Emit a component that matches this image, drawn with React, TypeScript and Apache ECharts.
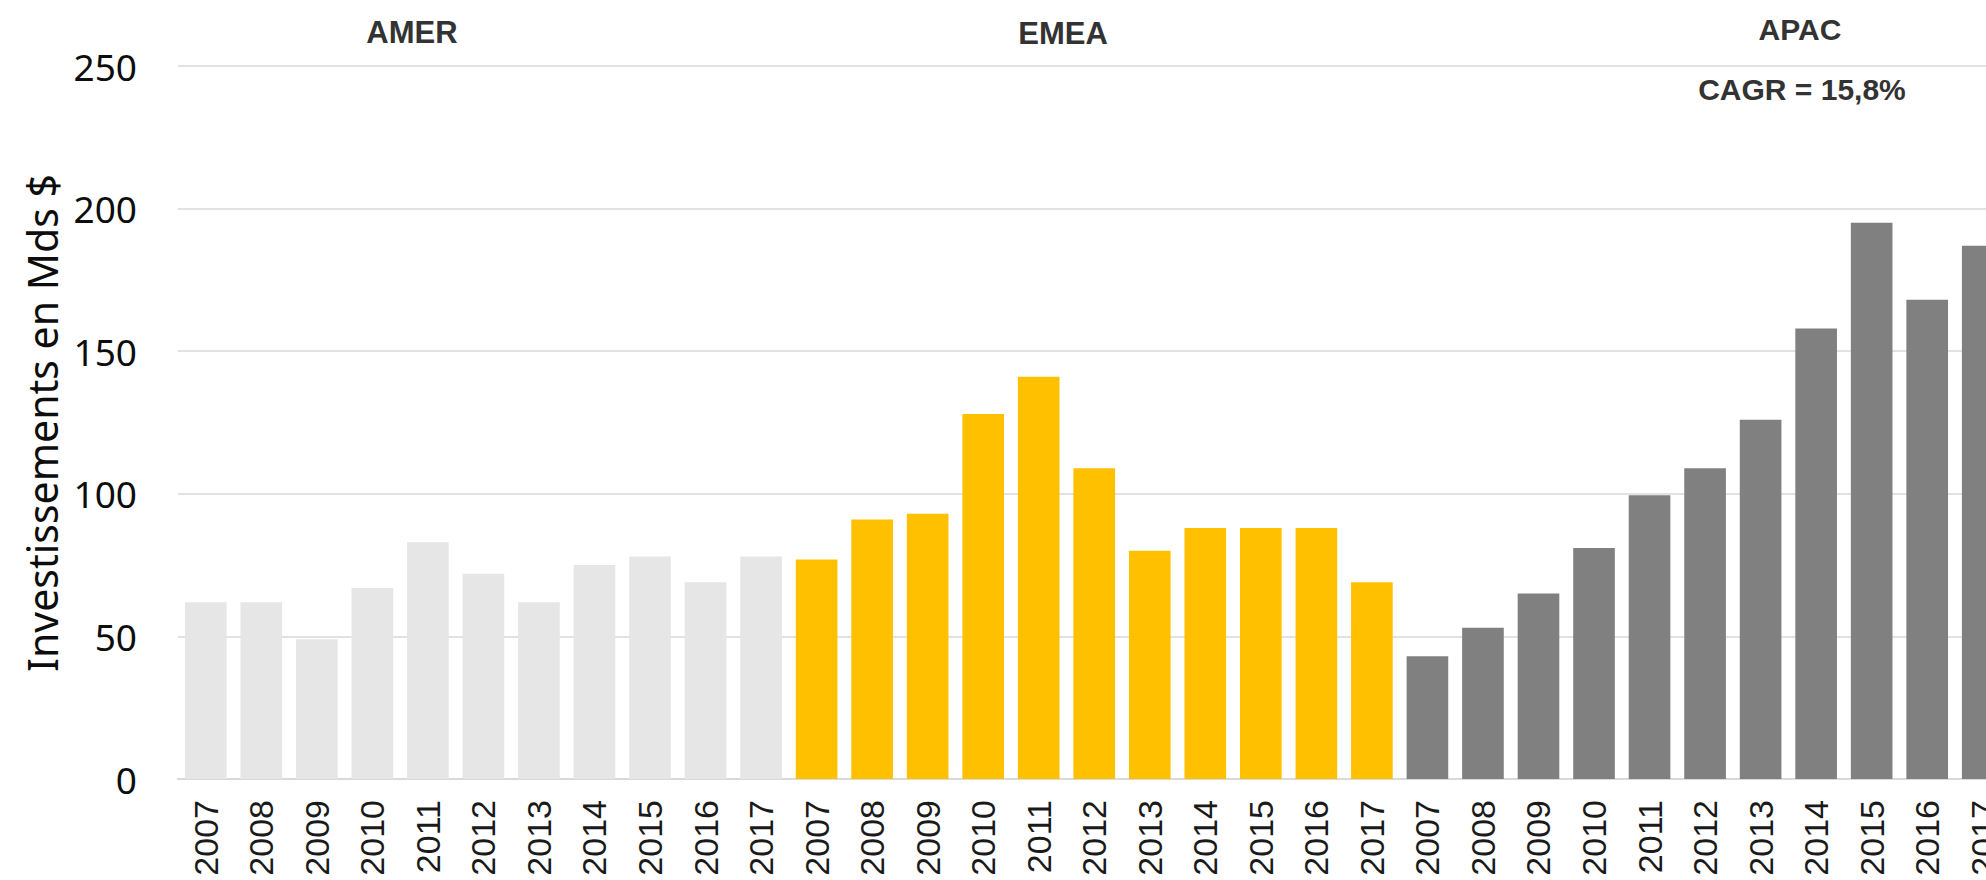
import React, { useEffect, useRef } from "react";
import * as echarts from "echarts";

const years = ["2007", "2008", "2009", "2010", "2011", "2012", "2013", "2014", "2015", "2016", "2017"];
const regions = ["AMER", "EMEA", "APAC"];
const amerValues = [62, 62, 49, 67, 83, 72, 62, 75, 78, 69, 78];
const emeaValues = [77, 91, 93, 128, 141, 109, 80, 88, 88, 88, 69];
const apacValues = [43, 53, 65, 81, 99.5, 109, 126, 158, 195, 168, 187];
const regionColors = ["#E6E6E6", "#FFC000", "#808080"];
const yTicks = { min: 0, max: 250, interval: 50 };
const yAxisTitle = "Investissements en Mds $";
const cagrLabel = "CAGR = 15,8%";

export default function App() {
  const ref = useRef<HTMLDivElement>(null);

  useEffect(() => {
    if (!ref.current) return;
    const chart = echarts.init(ref.current, undefined, { renderer: "svg" });

    const categories: string[] = [];
    regions.forEach((r) => years.forEach((y) => categories.push(r + "|" + y)));
    const all = [amerValues, emeaValues, apacValues];
    const series = regions.map((r, ri) => {
      const data: (number | string)[] = [];
      all.forEach((vals, vi) => vals.forEach((v) => data.push(vi === ri ? v : "-")));
      return {
        name: r,
        type: "bar",
        stack: "total",
        barCategoryGap: "25%",
        itemStyle: { color: regionColors[ri] },
        data,
      };
    });

    const bandW = 55.53;
    const titleStyle = {
      fontFamily: "Liberation Sans, Arial, sans-serif",
      fontWeight: "bold",
      fontSize: 30,
      fill: "#333333",
      align: "center",
      verticalAlign: "middle",
    };

    chart.setOption({
      animation: false,
      grid: {
        left: 178,
        top: 66,
        bottom: 101,
        width: bandW * categories.length,
        containLabel: false,
        outerBoundsMode: "none",
      },
      xAxis: {
        type: "category",
        data: categories,
        axisLine: { show: true, lineStyle: { color: "#D9D9D9", width: 2 } },
        axisTick: { show: false },
        axisLabel: {
          interval: 0,
          rotate: 90,
          margin: 21,
          fontFamily: "Liberation Sans, Arial, sans-serif",
          fontSize: 34,
          color: "#1a1a1a",
          formatter: (v: string) => v.split("|")[1],
        },
      },
      yAxis: {
        type: "value",
        min: yTicks.min,
        max: yTicks.max,
        interval: yTicks.interval,
        axisLine: { show: false },
        axisTick: { show: false },
        splitLine: { lineStyle: { color: "#D9D9D9", width: 1.5 } },
        axisLabel: {
          margin: 41,
          fontFamily: "Noto Sans, Open Sans, sans-serif",
          fontSize: 37,
          color: "#0d0d0d",
        },
      },
      graphic: [
        {
          type: "text",
          x: 42,
          y: 423,
          rotation: Math.PI / 2,
          style: {
            text: yAxisTitle,
            fontFamily: "Noto Sans, Open Sans, sans-serif",
            fontSize: 41,
            fill: "#0d0d0d",
            align: "center",
            verticalAlign: "middle",
          },
        },
        { type: "text", x: 412, y: 32, style: { ...titleStyle, text: regions[0], fontSize: 31 } },
        { type: "text", x: 1063, y: 33, style: { ...titleStyle, text: regions[1], fontSize: 31 } },
        { type: "text", x: 1800, y: 29, style: { ...titleStyle, text: regions[2] } },
        { type: "text", x: 1802, y: 89, style: { ...titleStyle, text: cagrLabel } },
      ],
      series,
    });

    return () => chart.dispose();
  }, []);

  return (
    <div
      ref={ref}
      style={{ position: "absolute", left: 0, top: 0, width: 1986, height: 880, background: "#ffffff" }}
    />
  );
}
